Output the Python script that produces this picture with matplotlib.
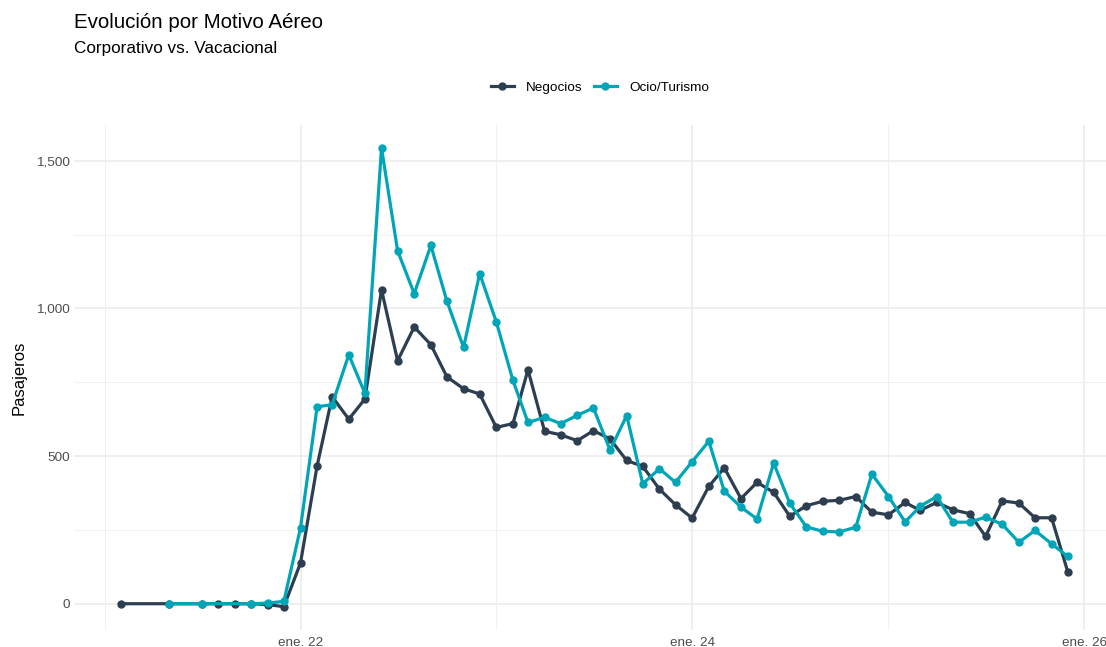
import numpy as np
import pandas as pd
import matplotlib
matplotlib.use('Agg')
import matplotlib.pyplot as plt
import matplotlib.dates as mdates
from matplotlib.ticker import FuncFormatter

plt.rcParams['font.family'] = ['Liberation Sans', 'DejaVu Sans']

# meses (feb 2021 - dic 2025)
meses = pd.date_range('2021-02-01', '2025-12-01', freq='MS')

nan = np.nan
negocios = [
    0, nan, nan, 0, nan, 0, 0, 0, 0, -3, -10,
    138, 467, 701, 625, 693, 1063, 823, 937, 877, 768, 728, 710,
    597, 610, 792, 584, 572, 552, 586, 558, 485, 465, 388, 335,
    290, 397, 460, 356, 411, 377, 296, 332, 347, 350, 363, 310,
    301, 343, 316, 343, 318, 305, 228, 348, 341, 291, 291, 109,
]
ocio = [
    nan, nan, nan, 0, nan, 0, nan, nan, 0, 2, 8,
    257, 667, 674, 843, 713, 1543, 1195, 1050, 1213, 1024, 868, 1118,
    954, 756, 614, 631, 610, 638, 663, 520, 637, 406, 457, 411,
    481, 550, 381, 327, 287, 476, 340, 260, 245, 243, 259, 439,
    363, 277, 330, 363, 276, 276, 293, 269, 208, 248, 203, 160,
]

df = pd.DataFrame({'fecha': meses, 'Negocios': negocios, 'Ocio/Turismo': ocio})
colores = {'Negocios': '#2c3e50', 'Ocio/Turismo': '#00a6b8'}

fig = plt.figure(figsize=(11.06, 6.47), dpi=100)
ax = fig.add_axes([74 / 1106, 1 - 630 / 647, (1115 - 74) / 1106, (630 - 125) / 647])

for serie in ['Negocios', 'Ocio/Turismo']:
    d = df[['fecha', serie]].dropna()
    ax.plot(d['fecha'], d[serie], color=colores[serie], lw=2.3, marker='o',
            markersize=5, label=serie, solid_joinstyle='round')

# escalas
x0 = mdates.date2num(pd.Timestamp('2021-02-01'))
x1 = mdates.date2num(pd.Timestamp('2025-12-01'))
pad = (x1 - x0) * 0.05
ax.set_xlim(x0 - pad, x1 + pad)
ax.set_ylim(-89, 1621)

ax.set_xticks([mdates.date2num(pd.Timestamp(f'{y}-01-01')) for y in (2022, 2024, 2026)])
ax.set_xticks([mdates.date2num(pd.Timestamp(f'{y}-01-01')) for y in (2021, 2023, 2025)], minor=True)
ax.xaxis.set_major_formatter(FuncFormatter(lambda v, p: 'ene. %02d' % (mdates.num2date(v).year % 100)))
ax.set_yticks([0, 500, 1000, 1500])
ax.set_yticks([250, 750, 1250], minor=True)
ax.yaxis.set_major_formatter(FuncFormatter(lambda v, p: f'{int(v):,}'))

ax.grid(which='major', color='#ebebeb', lw=1.1)
ax.grid(which='minor', color='#f0f0f0', lw=0.7)
ax.set_axisbelow(True)
for s in ax.spines.values():
    s.set_visible(False)
ax.tick_params(which='both', length=0, labelsize=9.7, labelcolor='#4d4d4d', pad=3)
ax.tick_params(axis='x', pad=5)

ax.set_ylabel('Pasajeros', fontsize=12, color='black', labelpad=7)

fig.text(74 / 1106, 1 - 23 / 647, 'Evolución por Motivo Aéreo', fontsize=14.8, va='center', ha='left')
fig.text(74 / 1106, 1 - 48 / 647, 'Corporativo vs. Vacacional', fontsize=12.3, va='center', ha='left')

fig.legend(loc='center', bbox_to_anchor=(600 / 1106, 1 - 88 / 647), ncol=2, frameon=False,
           fontsize=9.7, handlelength=1.7, columnspacing=0.85, handletextpad=0.9)

fig.savefig('out.png', dpi=100)
